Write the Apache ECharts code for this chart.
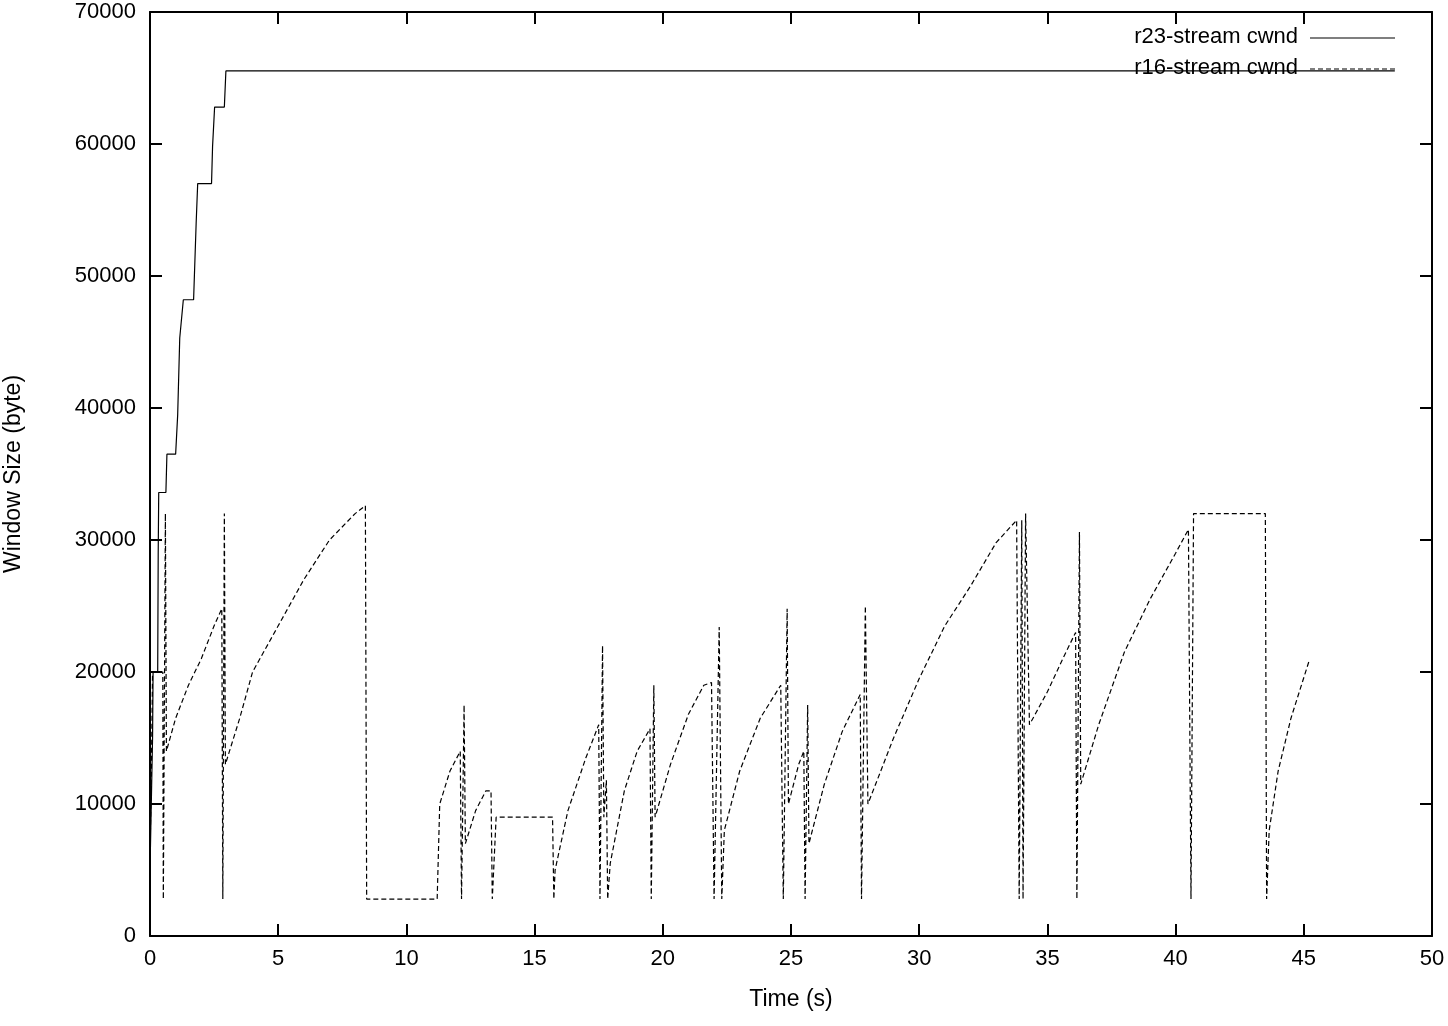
<!DOCTYPE html>
<html>
<head>
<meta charset="utf-8">
<script src="https://cdn.jsdelivr.net/npm/echarts@6/dist/echarts.min.js"></script>
<style>html,body{margin:0;padding:0;background:#fff}#chart{width:1448px;height:1026px}</style>
</head>
<body>
<div id="chart"></div>
<script>
// r23 cwnd (time s, bytes)
const r23Cwnd = [
  [0, 5000], [0.05, 10000], [0.1, 15000], [0.12, 20000], [0.3, 20000], [0.32, 29000], [0.34, 33600],
  [0.62, 33600], [0.66, 36500], [1.0, 36500], [1.08, 39500], [1.16, 45300], [1.22, 45300],
  [1.3, 48200], [1.7, 48200], [1.8, 54000], [1.86, 57000], [2.4, 57000], [2.44, 59800],
  [2.52, 62800], [2.9, 62800], [2.96, 65535], [48.55, 65535]
];
// r16 cwnd (time s, bytes)
const r16Cwnd = [
  [0, 6000], [0.05, 12000], [0.1, 20000], [0.5, 20000], [0.52, 2800], [0.6, 32000], [0.64, 14000],
  [1.0, 16500], [1.5, 19000], [2.0, 21000], [2.5, 23500], [2.8, 24800], [2.84, 2800], [2.9, 32000],
  [2.94, 13000], [3.5, 16500], [4.0, 20000], [5.0, 23500], [6.0, 27000], [7.0, 30000], [8.0, 32000],
  [8.4, 32600], [8.45, 2800], [11.2, 2800], [11.3, 10000], [11.7, 12500], [12.1, 14000], [12.15, 2800],
  [12.25, 17500], [12.3, 7000], [12.7, 9500], [13.1, 11000], [13.3, 11000], [13.35, 2800], [13.5, 9000],
  [15.7, 9000], [15.75, 2800], [15.8, 5000], [16.3, 9500], [17.0, 13500], [17.5, 16000], [17.55, 2800],
  [17.65, 22000], [17.7, 9000], [17.8, 11800], [17.85, 2800], [17.95, 5500], [18.5, 11000], [19.0, 14000],
  [19.5, 15700], [19.55, 2800], [19.65, 19000], [19.7, 9000], [20.3, 13000], [21.0, 16800], [21.6, 19000],
  [21.9, 19200], [22.0, 2800], [22.2, 23400], [22.3, 2800], [22.4, 8000], [23.0, 12500], [23.8, 16500],
  [24.6, 19000], [24.7, 2800], [24.85, 24800], [24.9, 10000], [25.3, 13000], [25.5, 14000], [25.55, 2800],
  [25.65, 17500], [25.7, 7000], [26.3, 11500], [27.0, 15500], [27.7, 18300], [27.75, 2800], [27.9, 25000],
  [28.0, 10000], [29.0, 15000], [30.0, 19500], [31.0, 23500], [32.0, 26500], [33.0, 29800], [33.8, 31500],
  [33.9, 2800], [34.0, 31500], [34.05, 2800], [34.15, 32000], [34.3, 16000], [35.0, 18500], [35.6, 21000],
  [36.1, 23000], [36.15, 2800], [36.25, 30600], [36.3, 11500], [37.0, 16000], [38.0, 21500], [39.0, 25500],
  [40.0, 29000], [40.5, 30800], [40.6, 2800], [40.7, 32000], [43.5, 32000], [43.55, 2800], [43.65, 8000],
  [44.0, 12500], [44.5, 16500], [45.2, 20800]
];
const xTicks = [0, 50, 5];
const yTicks = [0, 70000, 10000];
const seriesNames = ['r23-stream cwnd', 'r16-stream cwnd'];

const font = 'Liberation Sans, Arial, sans-serif';
const chart = echarts.init(document.getElementById('chart'));
const axisCommon = {
  axisLine: { show: true, onZero: false, lineStyle: { color: '#000', width: 2 } },
  axisTick: { inside: true, length: 12, lineStyle: { color: '#000', width: 2 } },
  splitLine: { show: false }
};
const legendText = { fontFamily: font, fontSize: 22, fill: '#000' };
chart.setOption({
  animation: false,
  backgroundColor: '#fff',
  grid: { left: 150, right: 16, top: 12, bottom: 90, outerBoundsMode: 'none', containLabel: false },
  graphic: [
    { type: 'text', right: 150, top: 26, style: Object.assign({ text: seriesNames[0], textAlign: 'right' }, legendText) },
    { type: 'line', shape: { x1: 1310, y1: 38, x2: 1395, y2: 38 }, style: { stroke: '#000', lineWidth: 1.2 } },
    { type: 'text', right: 150, top: 57, style: Object.assign({ text: seriesNames[1], textAlign: 'right' }, legendText) },
    { type: 'line', shape: { x1: 1310, y1: 69, x2: 1395, y2: 69 }, style: { stroke: '#000', lineWidth: 1.2, lineDash: [5, 3] } }
  ],
  xAxis: [
    Object.assign({ type: 'value', min: xTicks[0], max: xTicks[1], interval: xTicks[2],
      name: 'Time (s)', nameLocation: 'middle', nameGap: 52,
      nameTextStyle: { fontFamily: font, fontSize: 23, color: '#000' },
      axisLabel: { fontFamily: font, fontSize: 22, color: '#000', margin: 12 } }, axisCommon),
    Object.assign({ type: 'value', position: 'top', min: xTicks[0], max: xTicks[1], interval: xTicks[2],
      axisLabel: { show: false } }, axisCommon)
  ],
  yAxis: [
    Object.assign({ type: 'value', min: yTicks[0], max: yTicks[1], interval: yTicks[2],
      name: 'Window Size (byte)', nameLocation: 'middle', nameGap: 125, nameRotate: 90,
      nameTextStyle: { fontFamily: font, fontSize: 23, color: '#000' },
      axisLabel: { fontFamily: font, fontSize: 22, color: '#000', margin: 14, formatter: v => String(v) } }, axisCommon),
    Object.assign({ type: 'value', position: 'right', min: yTicks[0], max: yTicks[1], interval: yTicks[2],
      axisLabel: { show: false } }, axisCommon)
  ],
  series: [
    { name: seriesNames[0], type: 'line', data: r23Cwnd, showSymbol: false,
      lineStyle: { color: '#000', width: 1.2 }, itemStyle: { color: '#000' } },
    { name: seriesNames[1], type: 'line', data: r16Cwnd, showSymbol: false,
      lineStyle: { color: '#000', width: 1.2, type: [5, 3] }, itemStyle: { color: '#000' } }
  ]
});
</script>
</body>
</html>
